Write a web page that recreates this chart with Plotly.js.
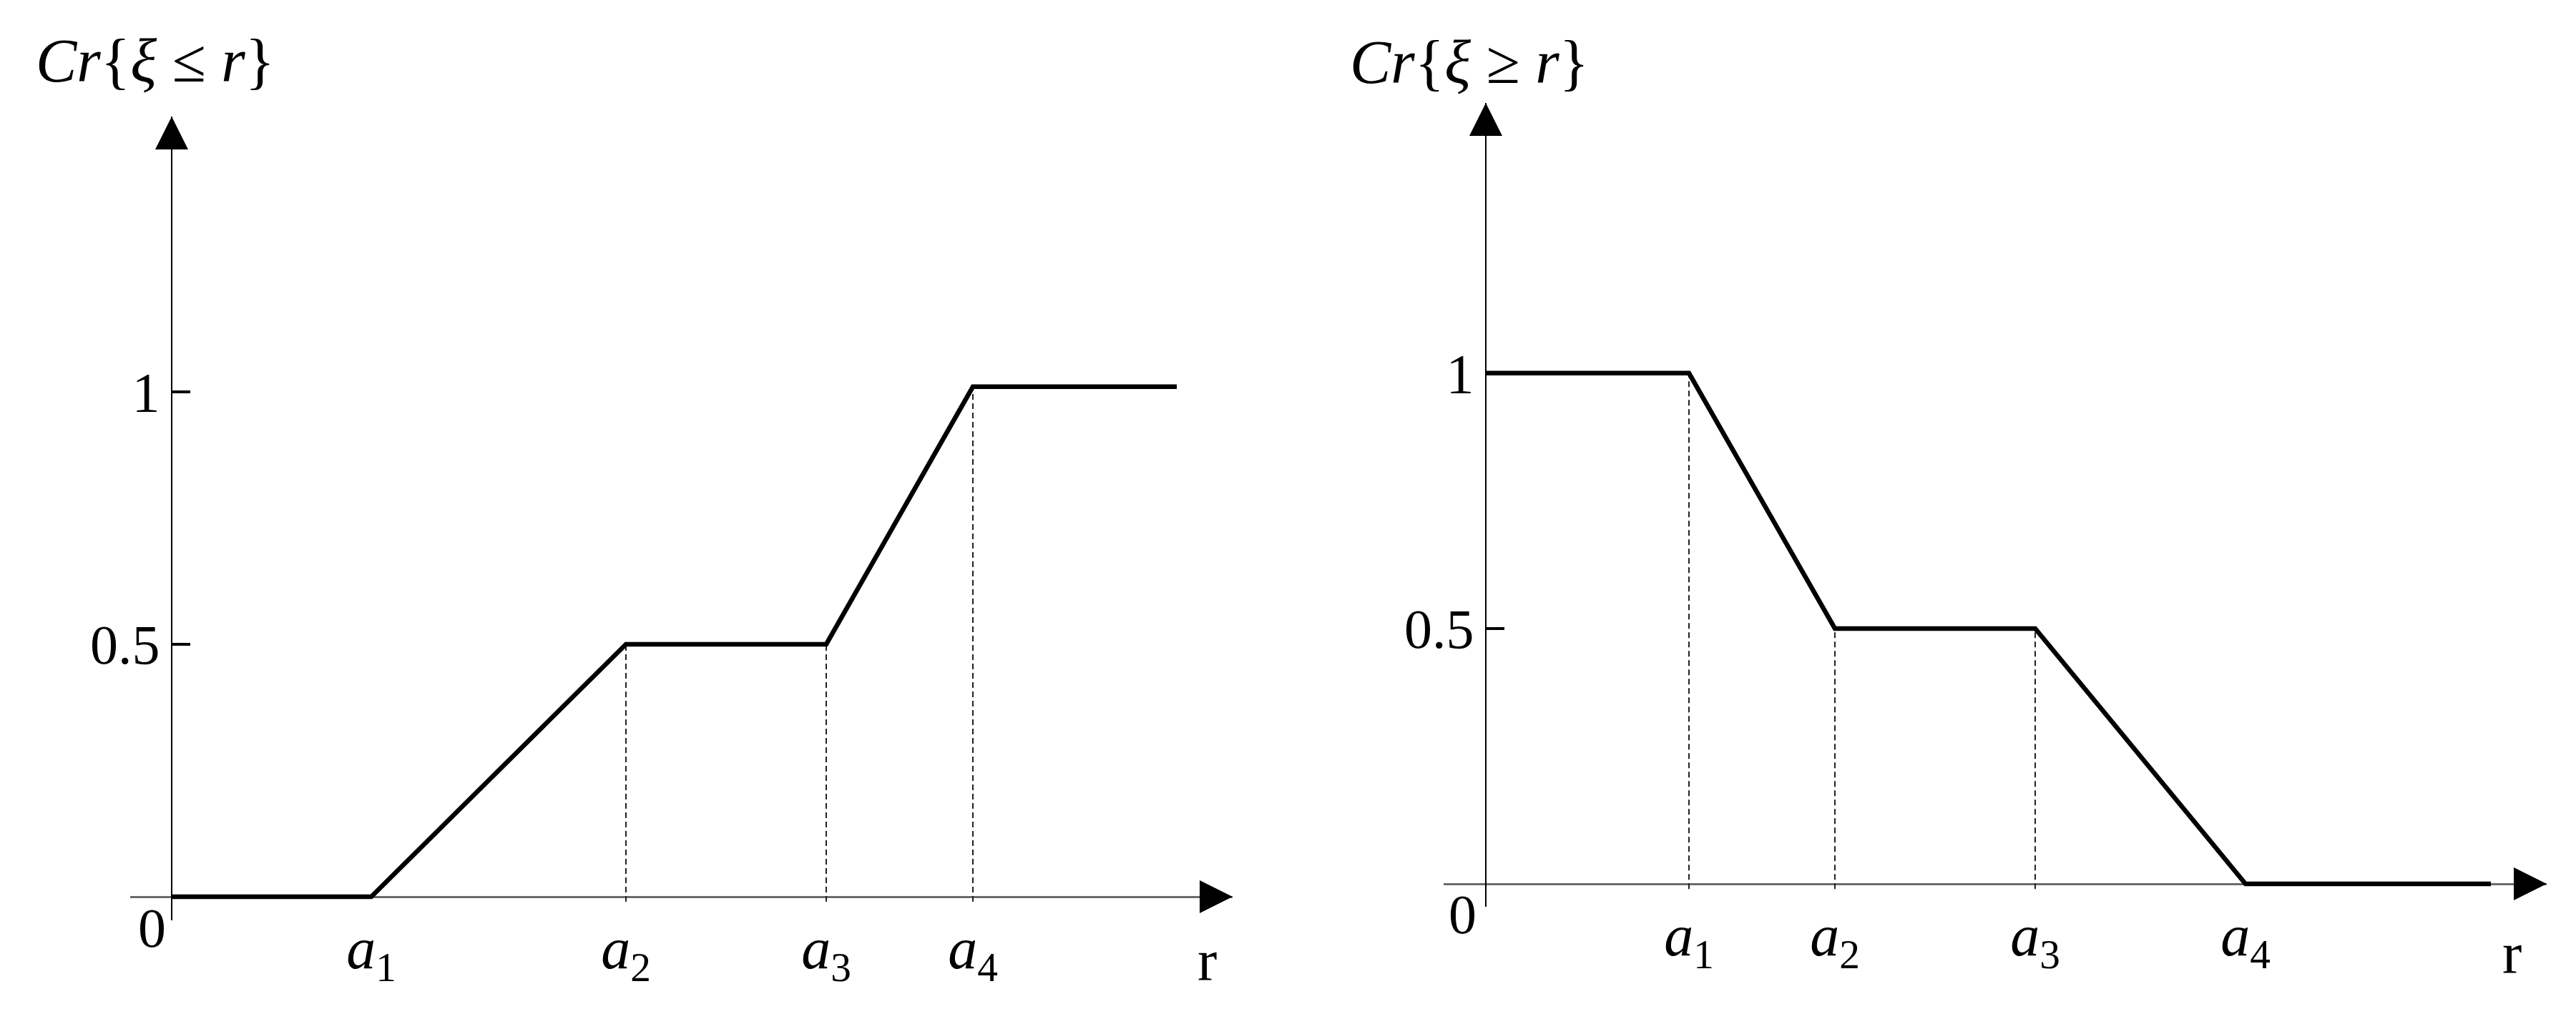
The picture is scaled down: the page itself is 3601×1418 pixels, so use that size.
<!DOCTYPE html>
<html>
<head>
<meta charset="utf-8">
<script src="https://cdn.plot.ly/plotly-3.0.1.min.js"></script>
<style>
  html, body { margin: 0; padding: 0; background: #fff; }
  #chart { width: 3601px; height: 1418px; }
</style>
</head>
<body>
<div id="chart"></div>
<script>
// left panel: Cr{xi <= r}, breakpoints 0, a1..a4, end
var leftX = [0, 2.79, 6.35, 9.15, 11.2, 14.05];
var leftY = [0, 0, 0.5, 0.5, 1.01, 1.01];

// right panel: Cr{xi >= r}
var rightX = [0, 2.84, 4.88, 7.68, 10.62, 14.05];
var rightY = [1, 1, 0.5, 0.5, 0, 0];

var xTickText = ['<i>a</i><sub>1</sub>', '<i>a</i><sub>2</sub>', '<i>a</i><sub>3</sub>', '<i>a</i><sub>4</sub>'];
var yTickVals = [0.5, 1];
var yTickText = ['0.5', '1'];

var leftTitle = '<i>Cr</i>{<i>ξ</i> ≤ <i>r</i>}';
var rightTitle = '<i>Cr</i>{<i>ξ</i> ≥ <i>r</i>}';

var W = 3601, H = 1418;
var FONT = 'Liberation Serif, Times New Roman, serif';

function fx(px) { return px / W; }
function fy(py) { return 1 - py / H; }

// pixel boxes of each panel's plot area, ranges chosen so 0 sits where the axes cross
var panels = [
    { xs: leftX, ys: leftY, xr: [-0.58, 14.83], yr: [-0.0467, 1.545],
      left: 182, right: 1723, top: 163, bottom: 1287,
      title: leftTitle, titleAt: [217, 85], zeroShift: [-28, -43], rAt: 14.47, rShift: -89 },
    { xs: rightX, ys: rightY, xr: [-0.59, 14.83], yr: [-0.0448, 1.529],
      left: 2018, right: 3560, top: 144, bottom: 1268,
      title: rightTitle, titleAt: [2054, 87], zeroShift: [-33, -42], rAt: 14.34, rShift: -97 }
];

var data = [];
var layout = {
    width: W,
    height: H,
    margin: { l: 0, r: 0, t: 0, b: 0 },
    paper_bgcolor: '#fff',
    plot_bgcolor: '#fff',
    showlegend: false,
    annotations: []
};

for (var p = 0; p < panels.length; p++) {
    var pn = panels[p];
    var sfx = p === 0 ? '' : String(p + 1);
    var xa = 'x' + sfx, ya = 'y' + sfx;

    var x0 = fx(pn.left), x1 = fx(pn.right);
    var y0 = fy(pn.bottom), y1 = fy(pn.top);
    var yAxisPos = x0 + (0 - pn.xr[0]) / (pn.xr[1] - pn.xr[0]) * (x1 - x0);
    var xAxisPos = y0 + (0 - pn.yr[0]) / (pn.yr[1] - pn.yr[0]) * (y1 - y0);

    // dashed guides from the axis up to each breakpoint
    var gx = [], gy = [];
    for (var i = 1; i < pn.xs.length - 1; i++) {
        if (pn.ys[i] > 0) {
            gx.push(pn.xs[i], pn.xs[i], null);
            gy.push(-0.01, pn.ys[i], null);
        }
    }
    data.push({
        x: gx, y: gy, xaxis: xa, yaxis: ya,
        mode: 'lines', hoverinfo: 'skip',
        line: { color: '#222', width: 2, dash: '8px,5px' }
    });

    data.push({
        x: pn.xs, y: pn.ys, xaxis: xa, yaxis: ya,
        mode: 'lines',
        line: { color: '#000', width: 6.5 }
    });

    // arrow heads at the ends of both axes
    data.push({
        x: [pn.xr[1], 0], y: [0, pn.yr[1]], xaxis: xa, yaxis: ya,
        mode: 'markers', cliponaxis: false, hoverinfo: 'skip',
        marker: { symbol: ['arrow-right', 'arrow-up'], size: 46, color: '#000', line: { width: 0 } }
    });

    layout['xaxis' + sfx] = {
        domain: [x0, x1], range: pn.xr, anchor: 'free', position: xAxisPos,
        showline: true, linecolor: '#6b6b6b', linewidth: 3,
        showgrid: false, zeroline: false, ticks: '',
        tickmode: 'array', tickvals: pn.xs.slice(1, 5), ticktext: xTickText,
        tickfont: { family: FONT, size: 82, color: '#000' },
        layer: 'below traces', fixedrange: true
    };
    layout['yaxis' + sfx] = {
        domain: [y0, y1], range: pn.yr, anchor: 'free', position: yAxisPos,
        showline: true, linecolor: '#000', linewidth: 2,
        showgrid: false, zeroline: false,
        ticks: 'inside', ticklen: 25, tickwidth: 4, tickcolor: '#000',
        tickmode: 'array', tickvals: yTickVals, ticktext: yTickText,
        tickfont: { family: FONT, size: 78, color: '#000' },
        layer: 'below traces', fixedrange: true
    };

    layout.annotations.push({
        xref: 'paper', yref: 'paper', x: fx(pn.titleAt[0]), y: fy(pn.titleAt[1]),
        xanchor: 'center', yanchor: 'middle', showarrow: false,
        text: pn.title, font: { family: FONT, size: 86, color: '#000' }
    });
    layout.annotations.push({
        xref: xa, yref: ya, x: 0, y: 0, xshift: pn.zeroShift[0], yshift: pn.zeroShift[1],
        xanchor: 'center', yanchor: 'middle', showarrow: false,
        text: '0', font: { family: FONT, size: 78, color: '#000' }
    });
    layout.annotations.push({
        xref: xa, yref: ya, x: pn.rAt, y: 0, yshift: pn.rShift,
        xanchor: 'center', yanchor: 'middle', showarrow: false,
        text: 'r', font: { family: FONT, size: 82, color: '#000' }
    });
}

Plotly.newPlot('chart', data, layout, { staticPlot: true, displayModeBar: false });
</script>
</body>
</html>
